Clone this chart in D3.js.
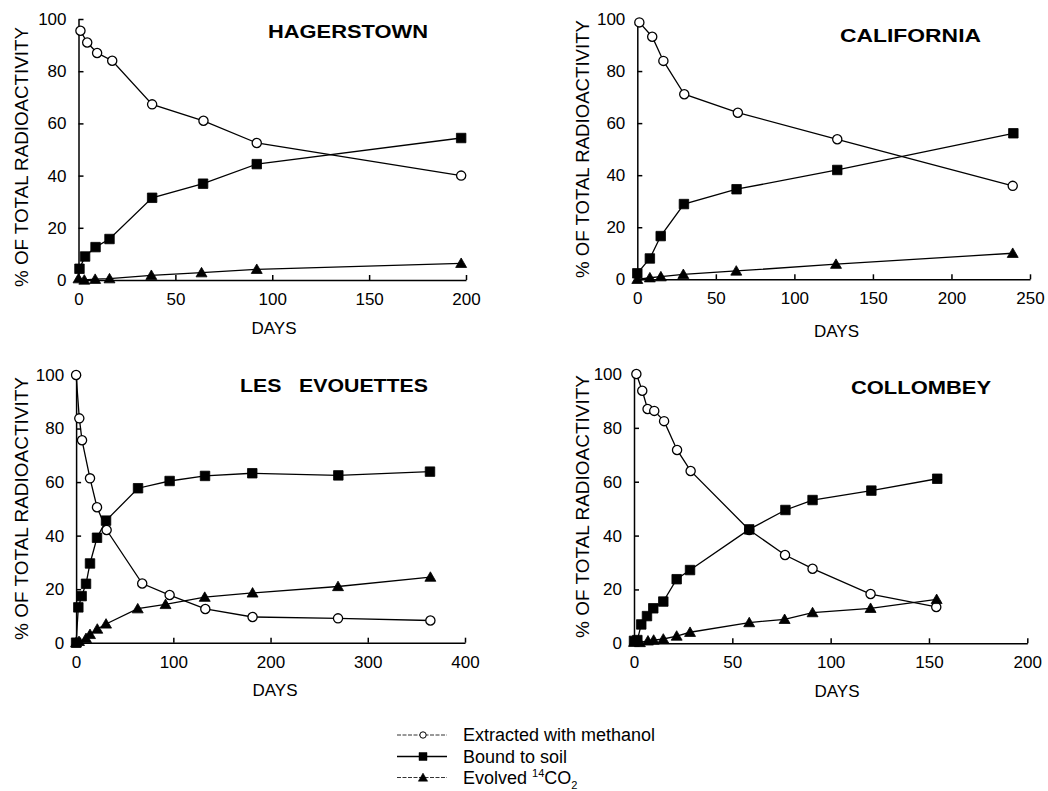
<!DOCTYPE html>
<html>
<head>
<meta charset="utf-8">
<script src="https://cdn.jsdelivr.net/npm/d3@7/dist/d3.min.js"></script>
<style>
  html, body { margin: 0; padding: 0; background: #fff; }
  svg { display: block; font-family: "Liberation Sans", Arial, Helvetica, sans-serif; }
</style>
</head>
<body>
<svg id="chart" width="1048" height="791"></svg>
<script>
// ---- Data: [day, % of total radioactivity] ----
const hagMethanol = [[1,95.5],[4.5,91],[9.6,87],[17.4,84],[38,67.3],[64.5,61],[92,52.5],[197.5,40]];
const hagBound    = [[0.5,4.3],[3.4,9],[8.8,12.6],[16,15.7],[38,31.5],[64.3,36.9],[92,44.4],[197.5,54.4]];
const hagCO2      = [[0,0.5],[3,0],[8.6,0.3],[16,0.5],[37.6,1.8],[63.5,2.8],[92,4.1],[197.5,6.4]];

const calMethanol = [[1.3,98.7],[9.5,93.2],[16.6,83.9],[29.9,71.1],[64,64],[127.3,53.8],[239,35.9]];
const calBound    = [[0,2.3],[8,8],[14.9,16.6],[29.7,28.9],[63.2,34.6],[127.3,42],[239.4,56.1]];
const calCO2      = [[0,0],[8,0.6],[15,1],[29.3,1.9],[63,3.2],[126.5,5.8],[239,10]];

const evoMethanol = [[0,100],[3.3,83.8],[6.1,75.6],[14.3,61.4],[21.5,50.6],[31.4,42.1],[68,22.1],[96.2,17.8],[132.9,12.6],[181.5,9.6],[269.4,9.1],[364.4,8.3]];
const evoBound    = [[0,0],[2.3,13.2],[5.7,17.4],[10.2,22],[14.3,29.6],[21.5,39.2],[30.8,45.6],[63.7,57.7],[96.2,60.4],[132.6,62.3],[181.2,63.3],[269.7,62.5],[364,63.9]];
const evoCO2      = [[0,0],[3,0.5],[10.2,1.6],[14.3,3.1],[21.8,5.1],[30.8,7],[63.4,12.7],[92,14.3],[132.3,17],[181.5,18.6],[269.4,21],[364.4,24.5]];

const colMethanol = [[1.2,100],[4.2,93.8],[6.9,87],[10.3,86.3],[15.3,82.5],[21.9,71.8],[28.8,64],[58.6,42.1],[76.8,32.8],[90.8,27.7],[120.3,18.3],[153.7,13.5]];
const colBound    = [[0,0.9],[1.7,1.2],[3.7,7],[6.6,10.1],[9.8,13],[14.9,15.5],[21.7,23.8],[28.5,27.2],[58.6,42.3],[77,49.5],[90.8,53.2],[120.7,56.7],[154.2,61.1]];
const colCO2      = [[0,0.4],[3,0.3],[7.1,0.9],[10,1.2],[14.9,1.6],[21.7,2.7],[28.5,4.1],[58.6,7.7],[76.6,8.9],[90.8,11.4],[120.3,13],[153.9,16.3]];

const panelTitles = ["HAGERSTOWN", "CALIFORNIA", "LES   EVOUETTES", "COLLOMBEY"];
const xMaxes = [200, 250, 400, 200];
const xTickSteps = [50, 50, 100, 50];
const yTicks = [0, 20, 40, 60, 80, 100];
const yLabel = "% OF TOTAL RADIOACTIVITY";
const xLabel = "DAYS";
const legendLabels = ["Extracted with methanol", "Bound to soil", "Evolved "];

// ---- Layout (pixels) ----
const layouts = [
  { x0: 78.5, x1: 466,    y0: 280,   y1: 19,  title: [268, 38, 160], ylab: [28, 157, 260],  xlab: [274, 334] },
  { x0: 637.3, x1: 1030,  y0: 279.3, y1: 19,  title: [840, 42, 141], ylab: [589, 149, 258], xlab: [836.5, 337] },
  { x0: 76.1, x1: 465,    y0: 642.7, y1: 375, title: [240, 392, 188], ylab: [28, 508.5, 263], xlab: [275, 696] },
  { x0: 634, x1: 1027.3,  y0: 643.3, y1: 374, title: [851, 394, 140], ylab: [589, 506.5, 263], xlab: [837, 697] }
];
const panelSeries = [
  [hagMethanol, hagBound, hagCO2],
  [calMethanol, calBound, calCO2],
  [evoMethanol, evoBound, evoCO2],
  [colMethanol, colBound, colCO2]
];

const svg = d3.select("#chart");
const sym = {
  circle: d3.symbol().type(d3.symbolCircle).size(Math.PI * 4.6 * 4.6),
  square: d3.symbol().type(d3.symbolSquare).size(9.5 * 9.5),
  triangle: d3.symbol().type(d3.symbolTriangle).size(52)
};
const symTypes = ["circle", "square", "triangle"];

layouts.forEach((L, i) => {
  const g = svg.append("g");
  const x = d3.scaleLinear().domain([0, xMaxes[i]]).range([L.x0, L.x1]);
  const y = d3.scaleLinear().domain([0, 100]).range([L.y0, L.y1]);

  const xa = g.append("g").attr("transform", `translate(0,${L.y0})`)
    .call(d3.axisBottom(x).tickValues(d3.range(0, xMaxes[i] + 1, xTickSteps[i]))
      .tickSizeInner(-5).tickSizeOuter(0).tickPadding(12));
  const ya = g.append("g").attr("transform", `translate(${L.x0},0)`)
    .call(d3.axisLeft(y).tickValues(yTicks).tickSizeInner(-5).tickSizeOuter(0).tickPadding(12));
  [xa, ya].forEach(a => {
    a.selectAll("path, line").attr("stroke", "#000").attr("stroke-width", 1.5);
    a.selectAll("text").attr("fill", "#000").attr("font-size", 17)
      .attr("font-family", "'Liberation Sans', Arial, sans-serif");
  });
  xa.selectAll("text").attr("dy", null).attr("y", 25);

  const line = d3.line().x(d => x(d[0])).y(d => y(d[1]));
  panelSeries[i].forEach((s, k) => {
    g.append("path").datum(s).attr("d", line).attr("fill", "none")
      .attr("stroke", "#000").attr("stroke-width", 1.3);
  });
  panelSeries[i].forEach((s, k) => {
    g.selectAll(null).data(s).enter().append("path")
      .attr("d", sym[symTypes[k]])
      .attr("transform", d => `translate(${x(d[0])},${y(d[1]) + (k === 2 ? 1 : 0)})`)
      .attr("fill", k === 0 ? "#fff" : "#000")
      .attr("stroke", "#000").attr("stroke-width", k === 0 ? 1.3 : 0.8);
  });

  g.append("text").attr("x", L.title[0]).attr("y", L.title[1])
    .attr("font-size", 19).attr("font-weight", "bold")
    .attr("textLength", L.title[2]).attr("lengthAdjust", "spacingAndGlyphs")
    .style("white-space", "pre").text(panelTitles[i]);

  g.append("text").attr("transform", `translate(${L.ylab[0]},${L.ylab[1]}) rotate(-90)`)
    .attr("text-anchor", "middle").attr("font-size", 18)
    .attr("textLength", L.ylab[2]).attr("lengthAdjust", "spacingAndGlyphs")
    .text(yLabel);

  g.append("text").attr("x", L.xlab[0]).attr("y", L.xlab[1])
    .attr("text-anchor", "middle").attr("font-size", 17).text(xLabel);
});

// ---- Legend ----
const leg = svg.append("g");
const legRows = [735, 756.5, 777.5];
legRows.forEach((cy, k) => {
  leg.append("line").attr("x1", 397).attr("x2", 447).attr("y1", cy).attr("y2", cy)
    .attr("stroke", k === 1 ? "#000" : "#333")
    .attr("stroke-width", k === 1 ? 1.6 : 1)
    .attr("stroke-dasharray", k === 1 ? null : "4,1.5");
  const size = k === 0 ? Math.PI * 3.2 * 3.2 : (k === 1 ? 64 : 38);
  leg.append("path").attr("d", d3.symbol().type([d3.symbolCircle, d3.symbolSquare, d3.symbolTriangle][k]).size(size))
    .attr("transform", `translate(423,${cy + (k === 2 ? 1 : 0)})`)
    .attr("fill", k === 0 ? "#fff" : "#000").attr("stroke", "#000").attr("stroke-width", k === 0 ? 1 : 0.5);
  const t = leg.append("text").attr("x", 463).attr("y", cy + 6).attr("font-size", 18);
  t.append("tspan").text(legendLabels[k]);
  if (k === 2) {
    t.append("tspan").attr("font-size", 11).attr("dy", -7).text("14");
    t.append("tspan").attr("dy", 7).text("CO");
    t.append("tspan").attr("font-size", 11).attr("dy", 5).text("2");
  }
});
</script>
</body>
</html>
